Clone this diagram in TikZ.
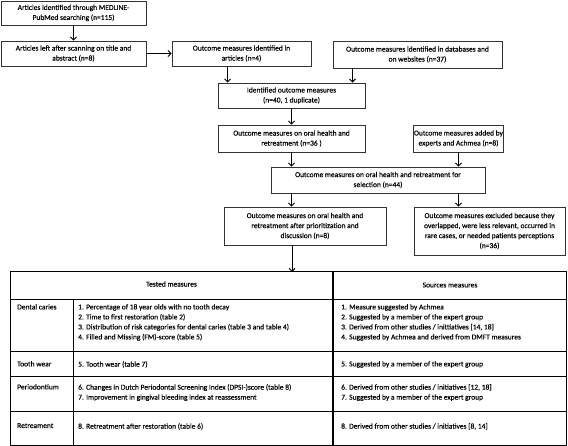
\documentclass[tikz,border=0pt]{standalone}
\usepackage{fontspec}
\setmainfont{Carlito}[FakeBold=0.25]
\usetikzlibrary{arrows.meta,calc}

\begin{document}
\begin{tikzpicture}[x=1pt,y=-1pt,
    box/.style={draw=black!80,line width=.9pt,align=center,inner sep=0pt,
        font=\fontsize{7.5}{10}\selectfont},
    arr/.style={line width=.9pt,-{Straight Barb[length=3pt,width=6pt]}},
    cell/.style={anchor=north west,align=left,inner sep=0pt,font=\fontsize{7.5}{10}\selectfont}]
    \useasboundingbox (0,0) rectangle (568,446);

    % flow chart
    \node[box,minimum width=145pt,minimum height=24pt] (ident) at (73.5,13)
        {Articles identified through MEDLINE-\\PubMed searching (n=115)};
    \node[box,minimum width=145pt,minimum height=25pt] (left) at (73.5,53.5)
        {Articles left after scanning on title and\\abstract (n=8)};
    \node[box,minimum width=139pt,minimum height=25pt] (inart) at (241.5,53.5)
        {Outcome measures identified in\\articles (n=4)};
    \node[box,minimum width=169pt,minimum height=27pt] (indb) at (417.5,54.5)
        {Outcome measures identified in databases and\\on websites (n=37)};
    \node[box,minimum width=147pt,minimum height=25pt] (found) at (291.5,95.5)
        {Identified outcome measures\\(n=40, 1 duplicate)};
    \node[box,minimum width=147pt,minimum height=27pt] (oral) at (291.5,138.5)
        {Outcome measures on oral health and\\retreatment (n=36 )};
    \node[box,minimum width=90pt,minimum height=27pt] (added) at (458.5,138.5)
        {Outcome measures added by\\experts and Achmea (n=8)};
    \node[box,minimum width=214pt,minimum height=26pt] (select) at (378,180)
        {Outcome measures on oral health and retreatment for\\selection (n=44)};
    \node[box,minimum width=162pt,minimum height=38pt] (prio) at (305,226)
        {Outcome measures on oral health and\\retreatment after prioritization and\\discussion (n=8)};
    \node[box,minimum width=151pt,minimum height=48pt] (excl) at (489.5,231)
        {Outcome measures excluded because they\\overlapped, were less relevant, occurred in\\rare cases, or needed patients perceptions\\(n=36)};

    \coordinate (inA) at ([xshift=10]found.north west);
    \coordinate (inB) at ([xshift=-13]found.north east);
    \coordinate (tab) at (292,272);

    \draw[arr] (ident) -- (left);
    \draw[arr] (left) -- (inart);
    \draw[arr] (inart.south -| inA) -- (inA);
    \draw[arr] (indb.south -| inB) -- (inB);
    \draw[arr] (found) -- (oral);
    \draw[arr] (oral.south) -- (oral.south |- select.north);
    \draw[arr] (added.south) -- (added.south |- select.north);
    \draw[arr] (oral.south |- select.south) -- (oral.south |- prio.north);
    \draw[arr] (added.south |- select.south) -- (added.south |- excl.north);
    \draw[arr] (prio.south -| tab) -- (tab);

    % table
    \draw[line width=1pt] (10,272) rectangle (566.5,445.5);
    \foreach \y in {299.5,352,377,412}{
        \draw[line width=1pt] (10,\y) -- (566.5,\y);
    }
    \draw[line width=1pt] (73,299.5) -- (73,445.5);
    \draw[line width=1.3pt] (333,272) -- (333,445.5);

    \node[cell,anchor=center] (tested) at (171.5,284) {Tested measures};
    \node[cell,anchor=center] (sources) at (450,285) {Sources measures};

    \node[cell] (caries) at (17,304) {Dental caries};
    \node[cell] (cariesT) at (78,304) {1. Percentage of 18 year olds with no tooth decay\\
        2. Time to first restoration (table 2)\\
        3. Distribution of risk categories for dental caries (table 3 and table 4)\\
        4. Filled and Missing (FM)-score (table 5)};
    \node[cell] (cariesS) at (341,304) {1. Measure suggested by Achmea\\
        2. Suggested by a member of the expert group\\
        3. Derived from other studies / inittiatives [14, 18]\\
        4. Suggested by Achmea and derived from DMFT measures};

    \node[cell] (wear) at (17,361) {Tooth wear};
    \node[cell] (wearT) at (78,361) {5. Tooth wear (table 7)};
    \node[cell] (wearS) at (341,361) {5. Suggested by a member of the expert group};

    \node[cell] (perio) at (17,384) {Periodontium};
    \node[cell] (perioT) at (78,384) {6. Changes in Dutch Periodontal Screening Index (DPSI-)score (table 8)\\
        7. Improvement in gingival bleeding index at reassessment};
    \node[cell] (perioS) at (341,384) {6. Derived from other studies / initiatives [12, 18]\\
        7. Suggested by a member of the expert group};

    \node[cell] (retr) at (17,423) {Retreament};
    \node[cell] (retrT) at (78,423) {8. Retreatment after restoration (table 6)};
    \node[cell] (retrS) at (341,423) {8. Derived from other studies / initiatives [8, 14]};
\end{tikzpicture}
\end{document}
